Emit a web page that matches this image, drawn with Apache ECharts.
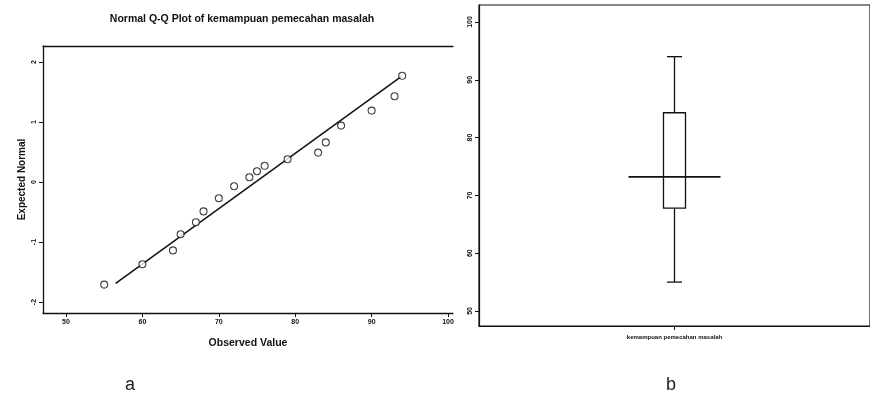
<!DOCTYPE html>
<html><head><meta charset="utf-8">
<script src="https://cdn.jsdelivr.net/npm/echarts@6/dist/echarts.min.js"></script>
<style>html,body{margin:0;padding:0;background:#fff}#c{width:870px;height:401px}</style>
</head><body><div id="c"></div>
<script>
// Q-Q plot data (a)
const observed = [55,60,64,65,67,68,70,72,74,75,76,79,83,84,86,90,93,94];
const expectedNormal = [-1.71,-1.37,-1.14,-0.87,-0.67,-0.49,-0.27,-0.07,0.08,0.18,0.27,0.38,0.49,0.66,0.94,1.19,1.43,1.77];
const refLineX = [56.5, 94];
const refLineY = [-1.69, 1.77];
const qqXTicks = [50,60,70,80,90,100];
const qqYTicks = [-2,-1,0,1,2];
// Box plot data (b)
const boxCategory = ['kemampuan pemecahan masalah'];
const boxStats = [55, 67.8, 73.2, 84.3, 94]; // min, Q1, median, Q3, max
const boxYTicks = [50,60,70,80,90,100];
const panelLabels = ['a','b'];

const FONT = 'Liberation Sans';
const INK = '#111';
const chart = echarts.init(document.getElementById('c'));

const qqPoints = observed.map((v,i)=>[v, expectedNormal[i]]);
const linePts = refLineX.map((v,i)=>[v, refLineY[i]]);
const boxData = boxCategory.map((c,i)=>[i, ...boxStats]);

chart.setOption({
  animation:false,
  backgroundColor:'#fff',
  title:{
    text:'Normal Q-Q Plot of kemampuan pemecahan masalah',
    left:237, top:9, textAlign:'center',
    textStyle:{fontFamily:FONT,fontSize:10.5,fontWeight:'bold',color:INK}
  },
  grid:[
    {left:43, top:46, width:410, height:267, show:false},
    {left:479, top:5, width:398, height:321, show:true, borderColor:INK, borderWidth:1.2, backgroundColor:'#fff'}
  ],
  xAxis:[
    {type:'value', gridIndex:0, min:46.99, max:100.65, position:'bottom',
     axisLine:{show:true,onZero:false,lineStyle:{color:INK,width:1.3}},
     axisTick:{show:true,customValues:qqXTicks,length:4,lineStyle:{color:INK}},
     axisLabel:{customValues:qqXTicks,fontFamily:FONT,fontSize:7,fontWeight:'bold',color:INK,margin:6},
     splitLine:{show:false},
     name:'Observed Value', nameLocation:'middle', nameGap:25,
     nameTextStyle:{fontFamily:FONT,fontSize:10.5,fontWeight:'bold',color:INK}},
    {type:'value', gridIndex:0, min:46.99, max:100.65, position:'top',
     axisLine:{show:true,onZero:false,lineStyle:{color:INK,width:1.3}},
     axisTick:{show:false}, axisLabel:{show:false}, splitLine:{show:false}},
    {type:'category', gridIndex:1, data:boxCategory, boundaryGap:true,
     axisLine:{show:true,lineStyle:{color:INK,width:1.2}},
     axisTick:{show:true,alignWithLabel:true,length:4,lineStyle:{color:INK}},
     axisLabel:{show:false},
     name:boxCategory[0], nameLocation:'middle', nameGap:8,
     nameTextStyle:{fontFamily:FONT,fontSize:6,fontWeight:'bold',color:INK}}
  ],
  yAxis:[
    {type:'value', gridIndex:0, min:-2.183, max:2.267,
     axisLine:{show:true,onZero:false,lineStyle:{color:INK,width:1.3}},
     axisTick:{show:true,customValues:qqYTicks,length:4,lineStyle:{color:INK}},
     axisLabel:{customValues:qqYTicks,fontFamily:FONT,fontSize:7,fontWeight:'bold',color:INK,rotate:90,margin:5},
     splitLine:{show:false},
     name:'Expected Normal', nameLocation:'middle', nameGap:16, nameRotate:90,
     nameTextStyle:{fontFamily:FONT,fontSize:10,fontWeight:'bold',color:INK}},
    {type:'value', gridIndex:1, min:47.40, max:102.94,
     axisLine:{show:true,lineStyle:{color:INK,width:1.2}},
     axisTick:{show:true,customValues:boxYTicks,length:4,lineStyle:{color:INK}},
     axisLabel:{customValues:boxYTicks,fontFamily:FONT,fontSize:7,fontWeight:'bold',color:INK,rotate:90,margin:5},
     splitLine:{show:false}}
  ],
  series:[
    {type:'line', xAxisIndex:0, yAxisIndex:0, data:linePts, symbol:'none',
     lineStyle:{color:INK,width:1.5}, silent:true, z:2},
    {type:'scatter', xAxisIndex:0, yAxisIndex:0, data:qqPoints, symbol:'circle', symbolSize:7,
     itemStyle:{color:'#fff',borderColor:INK,borderWidth:1.1}, z:3},
    {type:'custom', xAxisIndex:2, yAxisIndex:1, data:boxData,
     encode:{x:0,y:[1,2,3,4,5]},
     renderItem:function(params, api){
       const x = api.value(0);
       const pMin = api.coord([x, api.value(1)]);
       const pQ1 = api.coord([x, api.value(2)]);
       const pMed = api.coord([x, api.value(3)]);
       const pQ3 = api.coord([x, api.value(4)]);
       const pMax = api.coord([x, api.value(5)]);
       const cx = pMin[0];
       const boxW = 22, capW = 15, medW = 92;
       const st = {stroke:INK, lineWidth:1.3, fill:null};
       return {type:'group', children:[
         {type:'line', shape:{x1:cx,y1:pMin[1],x2:cx,y2:pQ1[1]}, style:st},
         {type:'line', shape:{x1:cx,y1:pQ3[1],x2:cx,y2:pMax[1]}, style:st},
         {type:'line', shape:{x1:cx-capW/2,y1:pMin[1],x2:cx+capW/2,y2:pMin[1]}, style:st},
         {type:'line', shape:{x1:cx-capW/2,y1:pMax[1],x2:cx+capW/2,y2:pMax[1]}, style:st},
         {type:'rect', shape:{x:cx-boxW/2,y:pQ3[1],width:boxW,height:pQ1[1]-pQ3[1]}, style:{stroke:INK,lineWidth:1.3,fill:'#fff'}},
         {type:'line', shape:{x1:cx-medW/2,y1:pMed[1],x2:cx+medW/2,y2:pMed[1]}, style:{stroke:INK,lineWidth:1.6}}
       ]};
     }}
  ],
  graphic:[
    {type:'text', left:125, top:376, style:{text:panelLabels[0], font:'18px "Liberation Sans"', fill:'#222'}},
    {type:'text', left:666, top:376, style:{text:panelLabels[1], font:'18px "Liberation Sans"', fill:'#222'}}
  ]
});
</script></body></html>
